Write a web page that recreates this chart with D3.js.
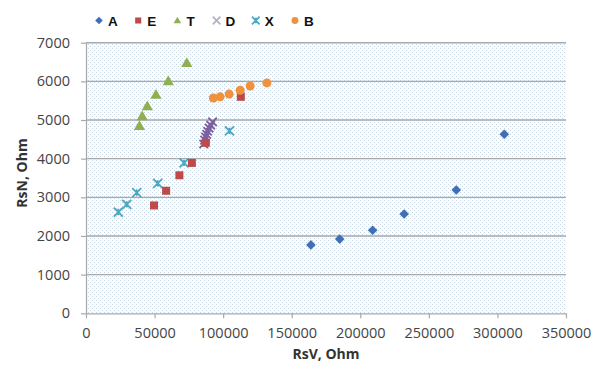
<!DOCTYPE html>
<html>
<head>
<meta charset="utf-8">
<script src="https://cdn.jsdelivr.net/npm/d3@7"></script>
<style>
  html, body { margin: 0; padding: 0; background: #fff; }
  svg { display: block; font-family: "Open Sans", "Liberation Sans", sans-serif; }
</style>
</head>
<body>
<svg id="chart" width="595" height="365"></svg>
<script>
// Series values: [RsV (Ohm), RsN (Ohm)]
const seriesA = [[164000, 1770], [185000, 1920], [209000, 2150], [232000, 2570], [270000, 3190], [305000, 4630]];
const seriesE = [[49600, 2790], [58400, 3170], [68100, 3570], [77200, 3890], [87400, 4410], [112900, 5600]];
const seriesT = [[39000, 4850], [41000, 5100], [44700, 5360], [51000, 5660], [60000, 6010], [73500, 6480]];
const seriesD = [[85800, 4380], [86500, 4480], [87200, 4560], [88000, 4630], [88700, 4710], [89800, 4790], [90900, 4870], [92300, 4950]];
const seriesX = [[23600, 2620], [29700, 2820], [37000, 3120], [52300, 3360], [71500, 3890], [104600, 4720]];
const seriesB = [[92900, 5570], [97800, 5600], [104400, 5670], [112400, 5770], [119700, 5880], [131900, 5960]];

const seriesNames = ["A", "E", "T", "D", "X", "B"];
const xTicks = [0, 50000, 100000, 150000, 200000, 250000, 300000, 350000];
const yTicks = [0, 1000, 2000, 3000, 4000, 5000, 6000, 7000];

const styles = {
  A: { color: "#3f6fb5", shape: "diamond" },
  E: { color: "#be4b48", shape: "square" },
  T: { color: "#8fb04e", shape: "triangle" },
  D: { color: "#7d5fa0", shape: "cross" },
  X: { color: "#4aa8c2", shape: "star" },
  B: { color: "#f0913e", shape: "circle" }
};
const dataByName = { A: seriesA, E: seriesE, T: seriesT, D: seriesD, X: seriesX, B: seriesB };

const svg = d3.select("#chart");
const plot = { left: 86, right: 566, top: 42.7, bottom: 313.3 };

const x = d3.scaleLinear().domain([0, 350000]).range([plot.left, plot.right]);
const y = d3.scaleLinear().domain([0, 7000]).range([plot.bottom, plot.top]);

// Dotted pattern fill of the plot area
const defs = svg.append("defs");
const pat = defs.append("pattern")
  .attr("id", "dots").attr("patternUnits", "userSpaceOnUse")
  .attr("width", 4).attr("height", 4);
pat.append("rect").attr("width", 4).attr("height", 4).attr("fill", "#fafcfd");
pat.append("rect").attr("x", 0).attr("y", 0).attr("width", 1).attr("height", 1).attr("fill", "#c6d6e3");
pat.append("rect").attr("x", 2).attr("y", 2).attr("width", 1).attr("height", 1).attr("fill", "#c6d6e3");

svg.append("rect")
  .attr("x", plot.left).attr("y", plot.top)
  .attr("width", plot.right - plot.left).attr("height", plot.bottom - plot.top)
  .attr("fill", "url(#dots)");

// Horizontal gridlines
svg.append("g").selectAll("line").data(yTicks.filter(d => d > 0)).join("line")
  .attr("x1", plot.left).attr("x2", plot.right)
  .attr("y1", d => y(d)).attr("y2", d => y(d))
  .attr("stroke", "#a9a9a9").attr("stroke-width", 1.4);

// Axes
const yAxis = svg.append("g").attr("transform", `translate(${plot.left},0)`)
  .call(d3.axisLeft(y).tickValues(yTicks).tickSize(5).tickPadding(11).tickSizeOuter(0).tickFormat(d3.format("d")));
const xAxis = svg.append("g").attr("transform", `translate(0,${plot.bottom})`)
  .call(d3.axisBottom(x).tickValues(xTicks).tickSize(5).tickPadding(9).tickSizeOuter(0).tickFormat(d3.format("d")));

[xAxis, yAxis].forEach(ax => {
  ax.select(".domain").attr("stroke", "#a9a9a9").attr("stroke-width", 1.2);
  ax.selectAll(".tick line").attr("stroke", "#a9a9a9").attr("stroke-width", 1.2);
  ax.selectAll(".tick text")
    .attr("fill", "#444").attr("font-size", 14.5)
    .attr("font-family", "'Open Sans', sans-serif");
});

// Axis titles
svg.append("text")
  .attr("x", (plot.left + plot.right) / 2).attr("y", 359)
  .attr("text-anchor", "middle").attr("font-size", 14).attr("font-weight", "bold")
  .attr("fill", "#333").text("RsV, Ohm");
svg.append("text")
  .attr("transform", "translate(27,173) rotate(-90)")
  .attr("text-anchor", "middle").attr("font-size", 14).attr("font-weight", "bold")
  .attr("fill", "#333").text("RsN, Ohm");

// Marker drawing
function drawMarker(g, shape, color, s) {
  if (shape === "diamond") {
    g.append("path").attr("d", `M0,${-s}L${s},0L0,${s}L${-s},0Z`).attr("fill", color);
  } else if (shape === "square") {
    g.append("rect").attr("x", -s * 0.8).attr("y", -s * 0.8).attr("width", s * 1.6).attr("height", s * 1.6).attr("fill", color);
  } else if (shape === "triangle") {
    g.append("path").attr("d", `M0,${-s}L${s},${s * 0.75}L${-s},${s * 0.75}Z`).attr("fill", color);
  } else if (shape === "circle") {
    g.append("circle").attr("r", s * 0.9).attr("fill", color);
  } else if (shape === "cross") {
    g.append("path").attr("d", `M${-s},${-s}L${s},${s}M${-s},${s}L${s},${-s}`)
      .attr("stroke", color).attr("stroke-width", 1.8).attr("fill", "none");
  } else if (shape === "star") {
    g.append("path").attr("d", `M${-s},${-s}L${s},${s}M${-s},${s}L${s},${-s}M0,${-s * 0.7}L0,${s * 0.7}`)
      .attr("stroke", color).attr("stroke-width", 1.8).attr("fill", "none");
  }
}

const sizes = { A: 4.8, E: 5, T: 5.6, D: 4.2, X: 4.5, B: 5 };
const order = ["D", "X", "T", "A", "E", "B"];
order.forEach(name => {
  const st = styles[name];
  svg.append("g").selectAll("g").data(dataByName[name]).join("g")
    .attr("transform", d => `translate(${x(d[0])},${y(d[1])})`)
    .each(function () { drawMarker(d3.select(this), st.shape, st.color, sizes[name]); });
});

// Legend
const legend = svg.append("g").attr("transform", "translate(99,20.5)");
seriesNames.forEach((name, i) => {
  const st = styles[name];
  const item = legend.append("g").attr("transform", `translate(${i * 39.2},0)`);
  const mk = item.append("g");
  const legendColor = name === "D" ? "#b7b0c6" : st.color;
  drawMarker(mk, st.shape, legendColor, 3.8);
  item.append("text").attr("x", 9).attr("y", 5).attr("font-size", 13.5).attr("font-weight", "bold")
    .attr("font-family", "'Liberation Sans', Arial, sans-serif")
    .attr("fill", "#111").text(name);
});
</script>
</body>
</html>
